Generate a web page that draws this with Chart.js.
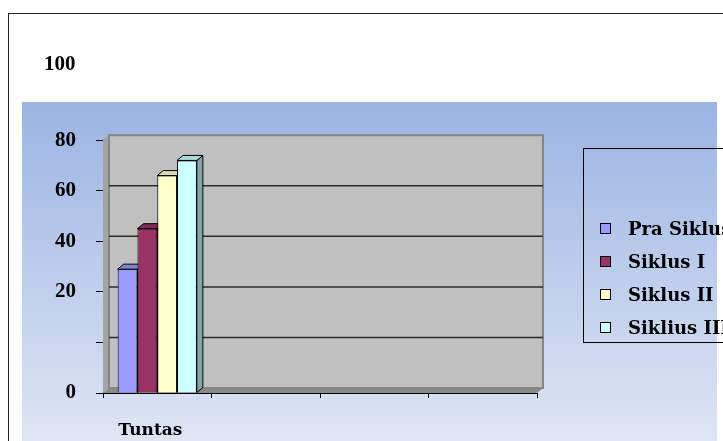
<!DOCTYPE html>
<html>
<head>
<meta charset="utf-8">
<script src="https://cdn.jsdelivr.net/npm/chart.js@4.4.0/dist/chart.umd.min.js"></script>
<style>
  html, body { margin: 0; padding: 0; background: #fff; overflow: hidden; }
  #frame { position: absolute; left: 8px; top: 13px; width: 800px; height: 500px;
           border-left: 1.5px solid #222; border-top: 1.5px solid #222; }
  #bg { position: absolute; left: 22px; top: 102px; width: 695px; height: 340px;
        background: linear-gradient(#9bb4e3, #dee5f4); }
  #chart { position: absolute; left: 0; top: 0; }
  #legend { position: absolute; left: 583px; top: 148px; width: 220px; height: 195px;
            border: 1px solid #000; box-sizing: border-box; padding-top: 63px; }
  .item { height: 33px; display: flex; align-items: center; white-space: nowrap;
          font: bold 18px "DejaVu Serif", serif; color: #000; }
  .sw { display: inline-block; width: 9px; height: 9px; border: 1px solid #000;
        margin-left: 16px; margin-right: 17px; }
</style>
</head>
<body>
<div id="frame"></div>
<div id="bg"></div>
<canvas id="chart" width="723" height="441"></canvas>
<div id="legend"></div>
<script>
// data
var categories = ['Tuntas', '', '', ''];
var seriesNames = ['Pra Siklus', 'Siklus I', 'Siklus II', 'Siklius III'];
var praSiklus = [49, null, null, null];
var siklus1 = [65, null, null, null];
var siklus2 = [86, null, null, null];
var siklus3 = [92, null, null, null];
// labels as they sit on the axis ticks 0,20,...,100 in the picture
var tickLabels = ['0', '', '20', '40', '60', '80'];
var topLabel = '100';

var colors = ['#9999ff', '#993366', '#ffffcc', '#ccffff'];
var dx = 6, dy = -5;

function shade(hex, f) {
    var n = parseInt(hex.slice(1), 16);
    var r = Math.round(((n >> 16) & 255) * f), g = Math.round(((n >> 8) & 255) * f), b = Math.round((n & 255) * f);
    return 'rgb(' + r + ',' + g + ',' + b + ')';
}
function poly(ctx, pts) {
    ctx.beginPath();
    ctx.moveTo(pts[0][0], pts[0][1]);
    for (var i = 1; i < pts.length; i++) ctx.lineTo(pts[i][0], pts[i][1]);
    ctx.closePath();
}

var wall3d = {
    id: 'wall3d',
    beforeDatasetsDraw: function(chart) {
        var ctx = chart.ctx, a = chart.chartArea, ys = chart.scales.y;
        var L = a.left, R = a.right, T = a.top, B = a.bottom;
        ctx.save();
        // side wall
        ctx.fillStyle = '#a4a4a4';
        poly(ctx, [[L, T], [L + dx, T + dy], [L + dx, B + dy], [L, B]]);
        ctx.fill();
        // floor
        ctx.fillStyle = '#8a8a8a';
        poly(ctx, [[L, B], [R, B], [R + dx, B + dy], [L + dx, B + dy]]);
        ctx.fill();
        // back wall
        ctx.fillStyle = '#c0c0c0';
        ctx.fillRect(L + dx, T + dy, R - L, B - T);
        ctx.strokeStyle = '#858585';
        ctx.lineWidth = 2;
        ctx.strokeRect(L + dx, T + dy, R - L, B - T);
        // grid lines on the back wall
        ctx.strokeStyle = '#2a2a2a';
        ctx.lineWidth = 1.5;
        ys.ticks.forEach(function(t) {
            if (t.value === ys.min || t.value === ys.max) return;
            var py = ys.getPixelForValue(t.value) + dy;
            ctx.beginPath();
            ctx.moveTo(L + dx, py);
            ctx.lineTo(R + dx, py);
            ctx.stroke();
        });
        // top and side faces of the bars
        ctx.lineWidth = 1;
        ctx.strokeStyle = '#000';
        chart.data.datasets.forEach(function(ds, i) {
            var meta = chart.getDatasetMeta(i);
            meta.data.forEach(function(bar, j) {
                if (ds.data[j] == null) return;
                var p = bar.getProps(['x', 'y', 'base', 'width'], true);
                var l = p.x - p.width / 2, r = p.x + p.width / 2;
                ctx.fillStyle = shade(ds.backgroundColor, 0.65);
                poly(ctx, [[r, p.y], [r + dx, p.y + dy], [r + dx, p.base + dy], [r, p.base]]);
                ctx.fill(); ctx.stroke();
                ctx.fillStyle = shade(ds.backgroundColor, 0.85);
                poly(ctx, [[l, p.y], [l + dx, p.y + dy], [r + dx, p.y + dy], [r, p.y]]);
                ctx.fill(); ctx.stroke();
            });
        });
        ctx.restore();
    }
};

var tickFont = { family: 'Liberation Serif', weight: 'bold', size: 21 };
var seriesData = [praSiklus, siklus1, siklus2, siklus3];

var chart = new Chart(document.getElementById('chart'), {
    type: 'bar',
    data: {
        labels: categories,
        datasets: seriesData.map(function(d, i) {
            return {
                label: seriesNames[i],
                data: d,
                backgroundColor: colors[i],
                borderColor: '#000',
                borderWidth: 1,
                categoryPercentage: 0.73,
                barPercentage: 1
            };
        })
    },
    options: {
        responsive: false,
        animation: false,
        devicePixelRatio: 1,
        layout: { padding: { left: 44, right: 186, top: 0, bottom: 0 } },
        plugins: {
            legend: { display: false },
            tooltip: { enabled: false },
            title: {
                display: true,
                text: topLabel,
                align: 'start',
                color: '#000',
                font: tickFont,
                padding: { top: 52, bottom: 63 }
            }
        },
        scales: {
            x: {
                grid: { offset: true, drawOnChartArea: false, tickLength: 5, color: '#000' },
                border: { color: '#000', width: 1 },
                ticks: { color: '#000', padding: 22, labelOffset: -7,
                         font: { family: 'DejaVu Serif', weight: 'bold', size: 17 } },
                afterFit: function(s) { s.height = 48; }
            },
            y: {
                min: 0,
                max: 100,
                grid: { drawOnChartArea: false, tickLength: 7, color: '#000' },
                border: { color: '#000', width: 1 },
                ticks: {
                    stepSize: 20,
                    color: '#000',
                    padding: 20,
                    font: tickFont,
                    callback: function(v) { return tickLabels[Math.round(v / 20)]; }
                },
                afterFit: function(s) { s.width = 59; }
            }
        }
    },
    plugins: [wall3d]
});

var legendBox = document.getElementById('legend');
chart.data.datasets.forEach(function(ds) {
    var row = document.createElement('div');
    row.className = 'item';
    var sw = document.createElement('span');
    sw.className = 'sw';
    sw.style.background = ds.backgroundColor;
    row.appendChild(sw);
    row.appendChild(document.createTextNode(ds.label));
    legendBox.appendChild(row);
});
</script>
</body>
</html>
